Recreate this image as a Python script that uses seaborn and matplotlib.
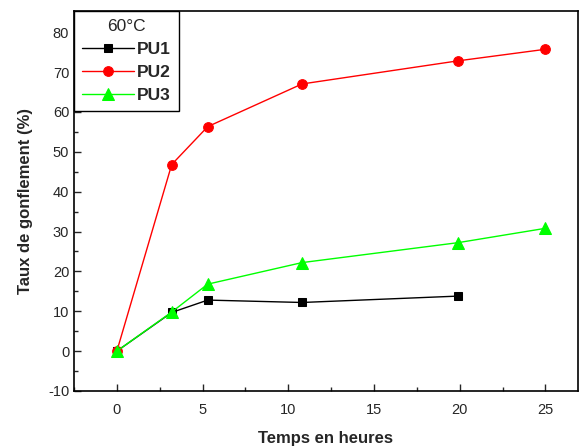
import matplotlib
matplotlib.use("Agg")
import matplotlib.pyplot as plt
import seaborn as sns
import pandas as pd
from matplotlib.ticker import MultipleLocator

sns.set_style("ticks")
plt.rcParams['font.family'] = ['Liberation Sans', 'DejaVu Sans']
plt.rcParams['axes.unicode_minus'] = False

t_pu1 = [0, 3.2, 5.3, 10.8, 19.9]
pu1 = [0, 9.7, 12.8, 12.2, 13.8]
t_pu23 = [0, 3.2, 5.3, 10.8, 19.9, 25]
pu2 = [0, 46.8, 56.3, 67.0, 72.8, 75.7]
pu3 = [0, 9.8, 16.8, 22.2, 27.2, 30.8]

series = ["PU1", "PU2", "PU3"]
colors = {"PU1": "black", "PU2": "red", "PU3": "#00ff00"}
markers = {"PU1": "s", "PU2": "o", "PU3": "^"}
msize = {"PU1": 6, "PU2": 7, "PU3": 8}

df = pd.concat([
    pd.DataFrame({"t": t_pu1, "v": pu1, "s": "PU1"}),
    pd.DataFrame({"t": t_pu23, "v": pu2, "s": "PU2"}),
    pd.DataFrame({"t": t_pu23, "v": pu3, "s": "PU3"}),
])

fig = plt.figure(figsize=(5.8, 4.48), dpi=100)
ax = fig.add_axes([74/580, 1-391/448, (578-74)/580, (391-11)/448])

for s in series:
    sub = df[df.s == s]
    sns.lineplot(data=sub, x="t", y="v", ax=ax, color=colors[s], marker=markers[s],
                 markersize=msize[s], markeredgecolor=colors[s], linewidth=1,
                 label=s, sort=False)

ax.set_xlim(-2.5, 26.9)
ax.set_ylim(-10, 85.3)
ax.xaxis.set_major_locator(MultipleLocator(5))
ax.xaxis.set_minor_locator(MultipleLocator(2.5))
ax.yaxis.set_major_locator(MultipleLocator(10))
ax.yaxis.set_minor_locator(MultipleLocator(5))
ax.tick_params(which='both', direction='in', labelsize=10.5, width=1)
ax.tick_params(which='major', length=5)
ax.tick_params(which='minor', length=3)
ax.tick_params(axis='x', pad=9)
for sp in ax.spines.values():
    sp.set_linewidth(1.2)
    sp.set_color('black')

ax.set_xlabel("Temps en heures", fontsize=12, fontweight='bold', labelpad=10)
ax.set_ylabel("Taux de gonflement (%)", fontsize=12, fontweight='bold', labelpad=11)

leg = ax.legend(title="60°C", loc='upper left', borderaxespad=0, fancybox=False,
                framealpha=1, edgecolor='black', fontsize=12.5, title_fontsize=12.5,
                handlelength=3, borderpad=0.45, labelspacing=0.45, handletextpad=0.2)
for txt in leg.get_texts():
    txt.set_fontweight('bold')
leg.get_frame().set_linewidth(1)

fig.savefig("out.png", dpi=100)
